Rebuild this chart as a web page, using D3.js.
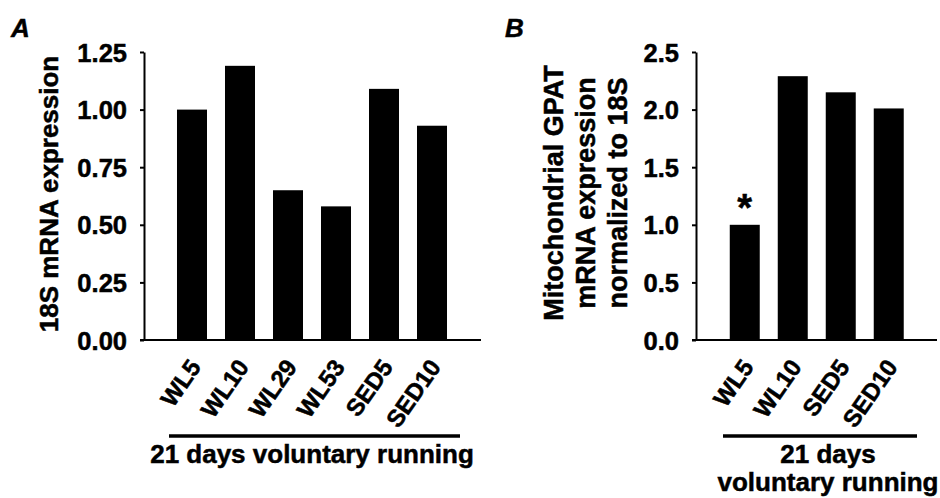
<!DOCTYPE html>
<html>
<head>
<meta charset="utf-8">
<script src="https://cdn.jsdelivr.net/npm/d3@7"></script>
<style>
  body { margin: 0; background: #fff; }
  svg { display: block; }
  text { font-family: Arial, "Liberation Sans", sans-serif; font-weight: bold; fill: #000; stroke: #000; stroke-width: 0.5px; }
</style>
</head>
<body>
<svg id="chart" width="940" height="498"></svg>
<script>
// ---- Data ----
const categoriesA = ["WL5", "WL10", "WL29", "WL53", "SED5", "SED10"];
const valuesA = [1.00, 1.19, 0.65, 0.58, 1.09, 0.93];
const ticksA = [0, 0.25, 0.5, 0.75, 1.0, 1.25];

const categoriesB = ["WL5", "WL10", "SED5", "SED10"];
const valuesB = [1.00, 2.29, 2.15, 2.01];
const ticksB = [0, 0.5, 1.0, 1.5, 2.0, 2.5];
const significantB = ["WL5"];

const titleA = ["18S mRNA expression"];
const titleB = ["Mitochondrial GPAT", "mRNA expression", "normalized to 18S"];
const groupA = ["21 days voluntary running"];
const groupB = ["21 days", "voluntary running"];

const svg = d3.select("#chart");

function panel(cfg) {
  const g = svg.append("g");
  const y = d3.scaleLinear().domain(cfg.domain).range([340, 52]);
  const x = d3.scaleBand().domain(cfg.cats).range(cfg.xRange)
    .paddingInner(0.375).paddingOuter(cfg.pOuter);

  // bars
  g.selectAll("rect.bar").data(cfg.cats).enter().append("rect")
    .attr("class", "bar")
    .attr("x", d => x(d))
    .attr("width", x.bandwidth())
    .attr("y", (d, i) => y(cfg.values[i]))
    .attr("height", (d, i) => y(0) - y(cfg.values[i]))
    .attr("fill", "#000");

  // y axis
  const ya = g.append("g").attr("transform", `translate(${cfg.axisX},0)`)
    .call(d3.axisLeft(y).tickValues(cfg.ticks).tickFormat(d3.format(cfg.fmt))
      .tickSizeInner(4).tickSizeOuter(0).tickPadding(13));
  ya.select(".domain").attr("stroke", "#000").attr("stroke-width", 2);
  ya.selectAll(".tick line").attr("stroke", "#000").attr("stroke-width", 2);
  ya.selectAll(".tick text").style("font-size", "25.5px")
    .attr("font-family", null).attr("dy", "0.36em");

  // x axis line
  g.append("line").attr("x1", cfg.axisX - 4).attr("x2", cfg.xEnd)
    .attr("y1", y(0)).attr("y2", y(0)).attr("stroke", "#000").attr("stroke-width", 2);

  // x labels
  g.selectAll("text.xl").data(cfg.cats).enter().append("text")
    .attr("class", "xl")
    .attr("transform", d => `translate(${x(d) + x.bandwidth() / 2 + 10},367) rotate(-55)`)
    .attr("text-anchor", "end")
    .style("font-size", "24px")
    .text(d => d);

  // group line
  g.append("line").attr("x1", cfg.groupLine[0]).attr("x2", cfg.groupLine[1])
    .attr("y1", 436).attr("y2", 436).attr("stroke", "#000").attr("stroke-width", 3.5);
  cfg.group.forEach((t, i) => {
    g.append("text").attr("x", cfg.groupX).attr("y", 463 + i * 28)
      .attr("text-anchor", "middle").style("font-size", "26px")
      .text(t);
  });

  // y title
  cfg.title.forEach((t, i) => {
    g.append("text")
      .attr("transform", `translate(${cfg.titleX + i * cfg.titleGap},${cfg.titleY}) rotate(-90)`)
      .attr("text-anchor", "middle").style("font-size", cfg.titleFS)
      .text(t);
  });

  // panel label
  g.append("text").attr("x", cfg.labelX).attr("y", 37)
    .style("font-size", "26px").style("font-style", "italic").text(cfg.label);

  return { x, y, g };
}

panel({
  cats: categoriesA, values: valuesA, ticks: ticksA, domain: [0, 1.25], fmt: ".2f",
  xRange: [160, 464], pOuter: 0.354, axisX: 144, xEnd: 481,
  groupLine: [169, 460], groupX: 312, group: groupA,
  title: titleA, titleX: 58, titleGap: 0, titleY: 194, titleFS: "26px", label: "A", labelX: 11
});

const pB = panel({
  cats: categoriesB, values: valuesB, ticks: ticksB, domain: [0, 2.5], fmt: ".1f",
  xRange: [712, 921.5], pOuter: 0.37, axisX: 696, xEnd: 937,
  groupLine: [723, 917], groupX: 828, group: groupB,
  title: titleB, titleX: 563, titleGap: 32, titleY: 193, titleFS: "27px", label: "B", labelX: 505
});

// significance marker
pB.g.selectAll("text.sig").data(significantB).enter().append("text")
  .attr("class", "sig")
  .attr("x", d => pB.x(d) + pB.x.bandwidth() / 2)
  .attr("y", d => pB.y(valuesB[categoriesB.indexOf(d)]) - 4)
  .attr("text-anchor", "middle").style("font-size", "38px")
  .text("*");
</script>
</body>
</html>
